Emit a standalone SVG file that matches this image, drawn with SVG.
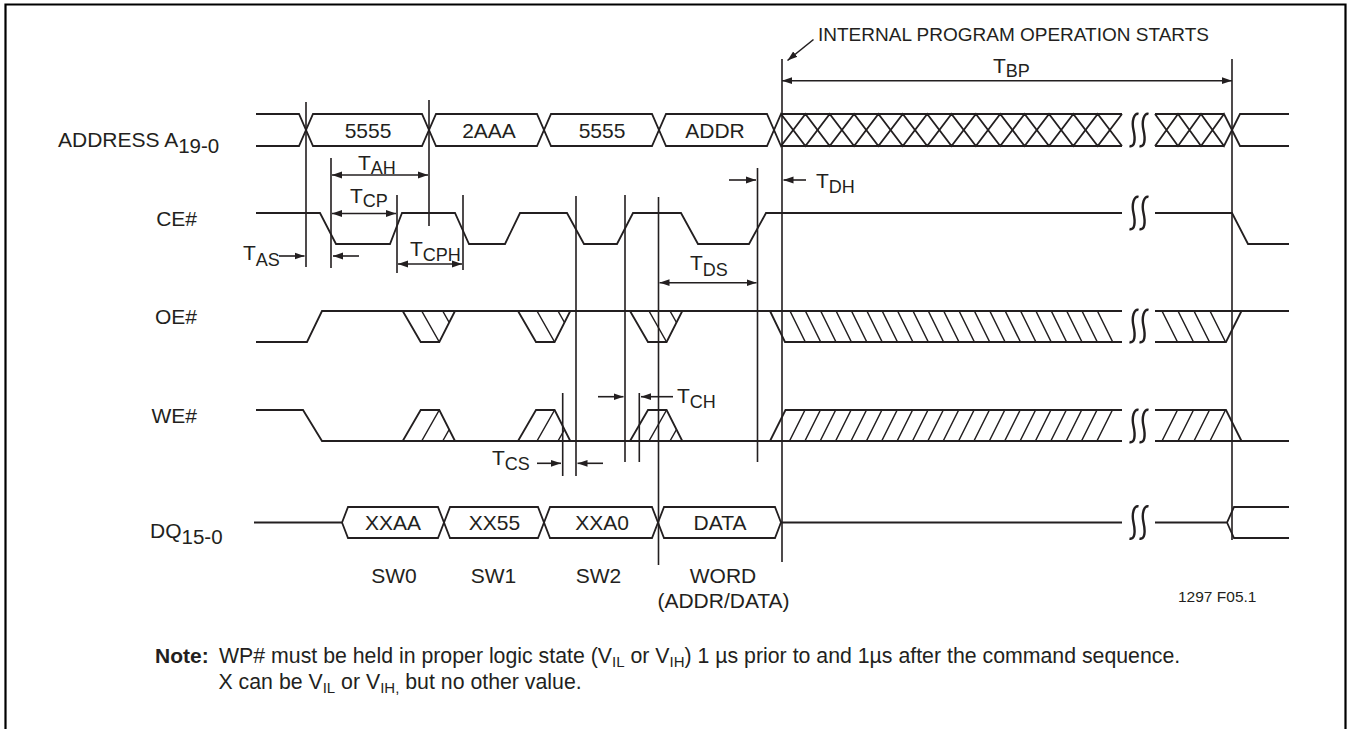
<svg xmlns="http://www.w3.org/2000/svg" xmlns:xlink="http://www.w3.org/1999/xlink" width="1348" height="729" viewBox="0 0 1348 729">
<style>
.sig{fill:none;stroke:#231f20;stroke-width:1.8;stroke-linejoin:miter}
.hat{fill:none;stroke:#231f20;stroke-width:1.5}
.vl{fill:none;stroke:#231f20;stroke-width:1.6}
.dim{fill:none;stroke:#231f20;stroke-width:1.6}
.frame{fill:none;stroke:#000;stroke-width:2.2}
text{font-family:"Liberation Sans",Arial,Helvetica,sans-serif;fill:#231f20}
.lb{font-size:21px}
.bx{font-size:21px;text-anchor:middle}
.end{text-anchor:end}
</style>
<defs>
<marker id="ah" viewBox="0 0 10 8" refX="10" refY="4" markerWidth="10" markerHeight="8" markerUnits="userSpaceOnUse" orient="auto-start-reverse">
<path d="M0,0.6 L10,4 L0,7.4 z" fill="#231f20"/>
</marker>
<path id="brk" d="M4.5,-16 C0,-17.5 -2.5,-9 -0.5,0 S1,17.5 -4.5,16" fill="none" stroke="#231f20" stroke-width="2.4"/>
<g id="oeP"><path class="sig" d="M0,311 L18,342 H36.6 L52.3,311"/><path class="hat" d="M19,311 L36.6,342 M40,311 L46.5,322.5"/></g>
<g id="weP"><path class="sig" d="M0,441 L18,410 H36.6 L52.3,441"/><path class="hat" d="M19,441 L36.6,410 M40,441 L46.5,429.5"/></g>
</defs>

<path class="frame" d="M5.5,729 V4.5 H1345.5 V729"/>

<g id="labels">
<text class="lb" x="58" y="146.5">ADDRESS A<tspan dy="6" font-size="20.5">19-0</tspan></text>
<text class="lb end" x="197" y="226">CE#</text>
<text class="lb end" x="197" y="324">OE#</text>
<text class="lb end" x="197" y="423">WE#</text>
<text class="lb" x="150" y="538">DQ<tspan dy="6" font-size="20.5">15-0</tspan></text>
</g>

<g id="sig-address">
<path class="sig" d="M256,114 H299 L313,146 H422 L436,114 H537 L551,146 H652 L666,114 H767 L781,146 L805.4,114 L829.7,146 L854.1,114 L878.4,146 L902.8,114 L927.2,146 L951.5,114 L975.9,146 L1000.2,114 L1024.6,146 L1049,114 L1073.3,146 L1097.7,114 L1122,146"/>
<path class="sig" d="M256,146 H299 L313,114 H422 L436,146 H537 L551,114 H652 L666,146 H767 L781,114 L805.4,146 L829.7,114 L854.1,146 L878.4,114 L902.8,146 L927.2,114 L951.5,146 L975.9,114 L1000.2,146 L1024.6,114 L1049,146 L1073.3,114 L1097.7,146 L1122,114"/>
<path class="sig" d="M781,114 H1122 M781,146 H1122"/>
<path class="sig" d="M1155,114 L1178,146 L1201,114 L1224,146 L1240,114 H1289 M1155,146 L1178,114 L1201,146 L1224,114 L1240,146 H1289 M1155,114 H1224 M1155,146 H1224"/>
<use xlink:href="#brk" x="1134" y="130"/><use xlink:href="#brk" x="1144" y="130"/>
<text class="bx" x="368" y="137.5">5555</text>
<text class="bx" x="489" y="137.5">2AAA</text>
<text class="bx" x="602" y="137.5">5555</text>
<text class="bx" x="715" y="137.5">ADDR</text>
</g>

<g id="sig-ce">
<path class="sig" d="M256,213 H320 L336,244 H390 L402,213 H455 L469,244 H505 L520,213 H567 L584,244 H617 L633,213 H681 L698,244 H749 L766,213 H1122"/>
<path class="sig" d="M1155,213 H1232 L1248,244 H1289"/>
<use xlink:href="#brk" x="1134" y="213"/><use xlink:href="#brk" x="1144" y="213"/>
</g>

<g id="sig-oe">
<path class="sig" d="M256,342 H307 L322,311 H1122 M1155,311 H1289"/>
<use xlink:href="#oeP" x="402.7"/><use xlink:href="#oeP" x="518"/><use xlink:href="#oeP" x="630"/>
<path class="sig" d="M770,311 L785,342 H1122 M1155,342 H1226 L1241.5,311"/>
<path class="hat" d="M790,311 l15.3,31 M805.4,311 l15.3,31 M820.7,311 l15.3,31 M836.1,311 l15.3,31 M851.5,311 l15.3,31 M866.9,311 l15.3,31 M882.2,311 l15.3,31 M897.6,311 l15.3,31 M913,311 l15.3,31 M928.3,311 l15.3,31 M943.7,311 l15.3,31 M959.1,311 l15.3,31 M974.4,311 l15.3,31 M989.8,311 l15.3,31 M1005.2,311 l15.3,31 M1020.6,311 l15.3,31 M1035.9,311 l15.3,31 M1051.3,311 l15.3,31 M1066.7,311 l15.3,31 M1082,311 l15.3,31 M1097.4,311 l15.3,31 M1162,311 l15.5,31 M1178,311 l15.5,31 M1194,311 l15.5,31 M1210,311 l15.5,31"/>
<use xlink:href="#brk" x="1134" y="326"/><use xlink:href="#brk" x="1144" y="326"/>
</g>

<g id="sig-we">
<path class="sig" d="M256,410 H303 L322,441 H1122 M1155,441 H1289"/>
<use xlink:href="#weP" x="402.7"/><use xlink:href="#weP" x="518"/><use xlink:href="#weP" x="630"/>
<path class="sig" d="M770,441 L785.5,410 H1122 M1155,410 H1226 L1241.5,441"/>
<path class="hat" d="M789.5,441 l15.5,-31 M804.9,441 l15.5,-31 M820.2,441 l15.5,-31 M835.6,441 l15.5,-31 M851,441 l15.5,-31 M866.4,441 l15.5,-31 M881.7,441 l15.5,-31 M897.1,441 l15.5,-31 M912.5,441 l15.5,-31 M927.8,441 l15.5,-31 M943.2,441 l15.5,-31 M958.6,441 l15.5,-31 M973.9,441 l15.5,-31 M989.3,441 l15.5,-31 M1004.7,441 l15.5,-31 M1020.1,441 l15.5,-31 M1035.4,441 l15.5,-31 M1050.8,441 l15.5,-31 M1066.2,441 l15.5,-31 M1081.5,441 l15.5,-31 M1096.9,441 l15.5,-31 M1162,441 l15.5,-31 M1178,441 l15.5,-31 M1194,441 l15.5,-31 M1210,441 l15.5,-31"/>
<use xlink:href="#brk" x="1134" y="426"/><use xlink:href="#brk" x="1144" y="426"/>
</g>

<g id="sig-dq">
<path class="sig" d="M254,522.5 H342 L348,507 H438 L450,538 H538 L550,507 H652 L664,538 H775 L781,522.5 H1122"/>
<path class="sig" d="M342,522.5 L348,538 H438 L450,507 H538 L550,538 H652 L664,507 H775 L781,522.5"/>
<path class="sig" d="M1155,522.5 H1227 L1234,507 H1289 M1227,522.5 L1234,538 H1289"/>
<use xlink:href="#brk" x="1134" y="522.5"/><use xlink:href="#brk" x="1144" y="522.5"/>
<text class="bx" x="393" y="530">XXAA</text>
<text class="bx" x="494.5" y="530">XX55</text>
<text class="bx" x="602" y="530">XXA0</text>
<text class="bx" x="720" y="530">DATA</text>
</g>

<g id="connectors">
<path class="vl" d="M306,102 V267 M331,158 V268 M397,195 V273 M429,100 V226 M463,195 V270 M562.7,393 V476 M576,196 V476 M625,195 V462 M639.3,393 V462 M658.5,197 V565 M757.5,168 V462 M782,59 V562 M1232,59 V540"/>
<path class="dim" d="M782,80.7 H1232" marker-start="url(#ah)" marker-end="url(#ah)"/>
<path class="dim" d="M332,175 H428" marker-start="url(#ah)" marker-end="url(#ah)"/>
<path class="dim" d="M332,213.5 H396" marker-start="url(#ah)" marker-end="url(#ah)"/>
<path class="dim" d="M398,264 H462" marker-start="url(#ah)" marker-end="url(#ah)"/>
<path class="dim" d="M659.5,282.7 H756.5" marker-start="url(#ah)" marker-end="url(#ah)"/>
<path class="dim" d="M279,256 H304.5" marker-end="url(#ah)"/>
<path class="dim" d="M359,256 H333" marker-end="url(#ah)"/>
<path class="dim" d="M729,180 H756" marker-end="url(#ah)"/>
<path class="dim" d="M806,180 H783.5" marker-end="url(#ah)"/>
<path class="dim" d="M598,396.7 H623.5" marker-end="url(#ah)"/>
<path class="dim" d="M673,396.7 H641" marker-end="url(#ah)"/>
<path class="dim" d="M537,463.3 H561" marker-end="url(#ah)"/>
<path class="dim" d="M603,463.3 H577.5" marker-end="url(#ah)"/>
<path class="dim" d="M813.5,39.5 L787.5,60.5" marker-end="url(#ah)"/>
</g>

<g id="timing-labels">
<text x="818" y="40.5" style="font-size:19px">INTERNAL PROGRAM OPERATION STARTS</text>
<text class="lb" x="993" y="73">T<tspan dy="4" font-size="18">BP</tspan></text>
<text class="lb" x="358" y="170">T<tspan dy="4" font-size="18">AH</tspan></text>
<text class="lb" x="350" y="203">T<tspan dy="4" font-size="18">CP</tspan></text>
<text class="lb" x="410" y="256">T<tspan dy="5" font-size="18">CPH</tspan></text>
<text class="lb" x="243" y="260">T<tspan dy="6" font-size="18">AS</tspan></text>
<text class="lb" x="816" y="188">T<tspan dy="5" font-size="18">DH</tspan></text>
<text class="lb" x="690" y="270">T<tspan dy="6" font-size="18">DS</tspan></text>
<text class="lb" x="677" y="403">T<tspan dy="5" font-size="18">CH</tspan></text>
<text class="lb" x="492" y="465">T<tspan dy="5" font-size="18">CS</tspan></text>
</g>

<g id="phase-labels">
<text class="bx" x="394" y="583">SW0</text>
<text class="bx" x="493.5" y="583">SW1</text>
<text class="bx" x="598.5" y="583">SW2</text>
<text class="bx" x="723" y="583">WORD</text>
<text class="bx" x="723.5" y="608">(ADDR/DATA)</text>
<text x="1178" y="602" style="font-size:15.5px">1297 F05.1</text>
</g>

<g id="note">
<text x="155" y="663" style="font-size:21px;font-weight:bold">Note:</text>
<text x="219" y="663" style="font-size:21.3px">WP# must be held in proper logic state (V<tspan dy="4" font-size="15">IL</tspan><tspan dy="-4"> or V</tspan><tspan dy="4" font-size="15">IH</tspan><tspan dy="-4">) 1 µs prior to and 1µs after the command sequence.</tspan></text>
<text x="218.5" y="689" style="font-size:21.3px">X can be V<tspan dy="4" font-size="15">IL</tspan><tspan dy="-4"> or V</tspan><tspan dy="4" font-size="15">IH,</tspan><tspan dy="-4"> but no other value.</tspan></text>
</g>
</svg>
